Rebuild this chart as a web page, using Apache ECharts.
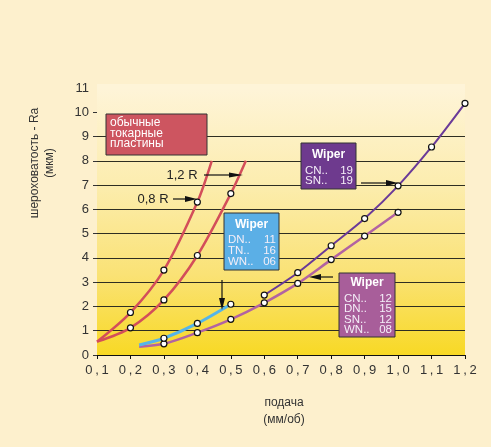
<!DOCTYPE html>
<html><head><meta charset="utf-8">
<script src="https://cdn.jsdelivr.net/npm/echarts@6/dist/echarts.min.js"></script>
<style>html,body{margin:0;padding:0;background:#FDF0CD;} #c{width:491px;height:447px;}</style>
</head><body><div id="c"></div>
<script>
// ---- data ----
const xTicks = [0.1,0.2,0.3,0.4,0.5,0.6,0.7,0.8,0.9,1.0,1.1,1.2];
const yTicks = [0,1,2,3,4,5,6,7,8,9,10,11];
// curves [feed, Ra]; *_marked: 1 = point drawn with a circle
const red08 = [[0.1,0.55],[0.2,1.75],[0.3,3.5],[0.4,6.3],[0.443,8.0]];
const red08Marked = [0,1,1,1,0];
const red12 = [[0.1,0.55],[0.2,1.12],[0.3,2.27],[0.4,4.1],[0.5,6.65],[0.545,8.0]];
const red12Marked = [0,1,1,1,1,0];
const wiperBlue = [[0.226,0.41],[0.3,0.69],[0.4,1.3],[0.5,2.09]];
const wiperBlueMarked = [0,1,1,1];
const wiperPink = [[0.226,0.34],[0.3,0.46],[0.4,0.92],[0.5,1.47],[0.6,2.15],[0.7,2.95],[0.8,3.93],[0.9,4.9],[1.0,5.88]];
const wiperPinkMarked = [0,1,1,1,1,1,1,1,1];
const wiperPurple = [[0.6,2.47],[0.7,3.39],[0.8,4.5],[0.9,5.62],[1.0,6.97],[1.1,8.57],[1.2,10.37]];
const wiperPurpleMarked = [1,1,1,1,1,1,1];

const FONT = 'Liberation Sans, Arial, sans-serif';
const chart = echarts.init(document.getElementById('c'), null, {renderer:'canvas'});

function series(pts, marked, color, width) {
  return {
    type:'line', smooth:0.3, z:3,
    data: pts.map((p,i)=>({value:p, symbol: marked[i] ? 'circle' : 'none'})),
    symbolSize:6, showAllSymbol:true,
    lineStyle:{color:color, width:width},
    itemStyle:{color:'#ffffff', borderColor:'#111', borderWidth:1.2},
    emphasis:{disabled:true}, animation:false
  };
}

function arrow(x1,y1,x2,y2,len,hw){
  const dx=x2-x1, dy=y2-y1, L=Math.hypot(dx,dy), ux=dx/L, uy=dy/L;
  const bx=x2-ux*len, by=y2-uy*len;
  return [
    {type:'line', z:50, shape:{x1:x1,y1:y1,x2:bx,y2:by}, style:{stroke:'#111', lineWidth:1.2}},
    {type:'polygon', z:50, shape:{points:[[x2,y2],[bx-uy*hw,by+ux*hw],[bx+uy*hw,by-ux*hw]]}, style:{fill:'#111'}}
  ];
}
function txt(t,x,y,opt){
  opt=opt||{};
  return {type:'text', z:60, rotation:opt.rot||0, x:x, y:y,
    style:{text:t, x:0, y:0, fill:opt.fill||'#333', font:(opt.weight||'normal')+' '+(opt.size||12)+'px '+FONT,
      align:opt.align||'center', verticalAlign:'middle', textAlign:opt.align||'center', textVerticalAlign:'middle'}};
}
function rect(x,y,w,h,fill){
  return {type:'rect', z:40, shape:{x:x,y:y,width:w,height:h}, style:{fill:fill, stroke:'#333', lineWidth:1}};
}
function wiperBox(x,y,w,h,fill,titleY,rows,rowY,lh,lx,rx){
  const els=[rect(x,y,w,h,fill), txt('Wiper', x+w/2, titleY, {fill:'#fff', weight:'bold', size:12})];
  rows.forEach((r,i)=>{
    els.push(txt(r[0], lx, rowY+i*lh, {fill:'#F4EEF8', size:11.5, align:'left'}));
    els.push(txt(r[1], rx, rowY+i*lh, {fill:'#F4EEF8', size:11.5, align:'right'}));
  });
  return els;
}

let g = [];
g.push({type:'rect', z:0, shape:{x:97,y:84,width:368,height:5}, style:{fill:'#FEF4D8'}});
g.push(txt('шероховатость - Ra', 35, 163, {rot:Math.PI/2, size:12}));
g.push(txt('(мкм)', 50, 163, {rot:Math.PI/2, size:12}));
g.push(txt('подача', 284, 403, {size:12}));
g.push(txt('(мм/об)', 284, 420, {size:12}));
g.push(rect(106,114,101,41,'#CD5560'));
g.push(txt('обычные', 110, 123, {fill:'#fff', align:'left'}));
g.push(txt('токарные', 110, 133.5, {fill:'#fff', align:'left'}));
g.push(txt('пластины', 110, 144, {fill:'#fff', align:'left'}));
g.push(txt('1,2 R', 182, 175, {size:13, fill:'#222'}));
g.push(txt('0,8 R', 153, 199, {size:13, fill:'#222'}));
g = g.concat(arrow(204,175,243,175,14,2.5));
g = g.concat(arrow(173,199,197,199,12,3));
g = g.concat(wiperBox(224,213,55,57,'#5BAFE6',225,[['DN..','11'],['TN..','16'],['WN..','06']],240,11,228,276));
g = g.concat(arrow(222,280,222,310,12,3));
g = g.concat(wiperBox(301,143,55,46,'#6E3A8E',155,[['CN..','19'],['SN..','19']],170.5,10,305,353));
g = g.concat(arrow(361,183,398,183,12,3));
g = g.concat(wiperBox(339,273,56,64,'#A85E9A',283,[['CN..','12'],['DN..','15'],['SN..','12'],['WN..','08']],299,10.3,344,392));
g = g.concat(arrow(333,277,309,277,12,3));

const option = {
  backgroundColor:'#FDF0CD',
  animation:false,
  grid:{left:97, right:26, top:88, bottom:92, show:true, borderWidth:0,
    backgroundColor: new echarts.graphic.LinearGradient(0,0,0,1,[
      {offset:0,color:'#FEF4D8'},{offset:0.35,color:'#FCEDB0'},{offset:0.7,color:'#FAE275'},{offset:1,color:'#F8D925'}])},
  xAxis:{type:'value', min:xTicks[0], max:xTicks[xTicks.length-1], interval:0.1,
    axisLine:{show:true, lineStyle:{color:'#111', width:1}},
    axisTick:{show:true, length:4, lineStyle:{color:'#111'}},
    splitLine:{show:false},
    axisLabel:{color:'#333', fontSize:13, fontFamily:FONT, margin:9,
      formatter:v=>v.toFixed(1).replace('.', '\u2009,\u2009')}},
  yAxis:{type:'value', min:yTicks[0], max:yTicks[yTicks.length-1], interval:1,
    axisLine:{show:false},
    axisTick:{show:true, length:4, lineStyle:{color:'#333'}, customValues:yTicks.slice(0,-1)},
    splitLine:{show:true, showMaxLine:false, lineStyle:{color:'#2E2E22', width:1.2}},
    axisLabel:{color:'#333', fontSize:13, fontFamily:FONT, margin:8}},
  series:[
    series(red08, red08Marked, '#D34E5A', 2.5),
    series(red12, red12Marked, '#D34E5A', 2.5),
    series(wiperPink, wiperPinkMarked, '#B263A2', 2.5),
    series(wiperBlue, wiperBlueMarked, '#55B5EA', 3),
    series(wiperPurple, wiperPurpleMarked, '#6A3A98', 2)
  ],
  graphic: g
};
chart.setOption(option);
</script></body></html>
